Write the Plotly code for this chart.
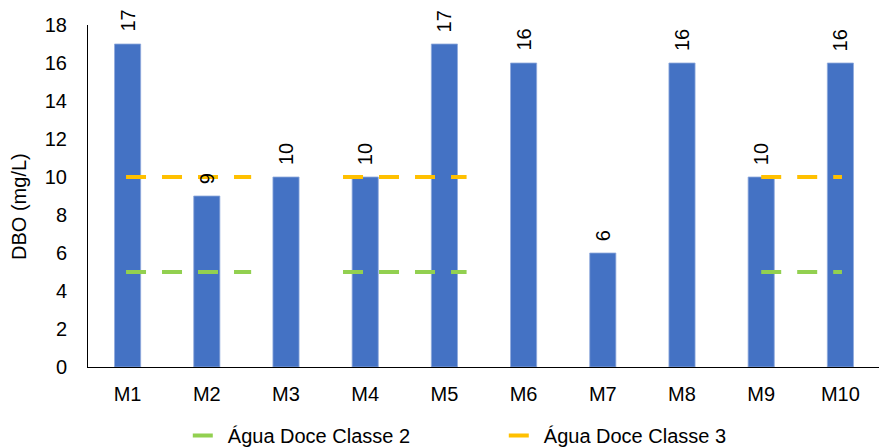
import plotly.graph_objects as go

categories = ["M1", "M2", "M3", "M4", "M5", "M6", "M7", "M8", "M9", "M10"]
dbo_values = [17, 9, 10, 10, 17, 16, 6, 16, 10, 16]

# reference line segments (x in category units, M1 = 0), None = gap
class2_x = [-0.02, 1.56, None, 2.72, 4.28, None, 8.0, 9.02]
class2_y = [5, 5, None, 5, 5, None, 5, 5]
class3_x = [-0.02, 1.56, None, 2.72, 4.28, None, 8.0, 9.02]
class3_y = [10, 10, None, 10, 10, None, 10, 10]

font_family = "Liberation Sans, Arial, sans-serif"
FS = 20
xpos = list(range(len(categories)))

fig = go.Figure()
fig.add_trace(go.Bar(
    x=xpos, y=dbo_values, width=0.33,
    marker=dict(color="#4472C4", line=dict(color="#8FAADC", width=0.8)),
    showlegend=False, hoverinfo="y",
))
fig.add_trace(go.Scatter(
    x=class2_x, y=class2_y, mode="lines", name="Água Doce Classe 2",
    line=dict(color="#92D050", width=4, dash="20px,16px"), connectgaps=False,
))
fig.add_trace(go.Scatter(
    x=class3_x, y=class3_y, mode="lines", name="Água Doce Classe 3",
    line=dict(color="#FFC000", width=4, dash="20px,16px"), connectgaps=False,
))

for xi, v in zip(xpos, dbo_values):
    fig.add_annotation(x=xi, y=v, text=str(v), showarrow=False, textangle=-90,
                       xanchor="center", yanchor="bottom", yshift=10,
                       font=dict(size=FS, color="#000000", family=font_family))

fig.add_annotation(xref="paper", yref="paper", x=-0.0871, y=0.468,
                   text="DBO (mg/L)", showarrow=False, textangle=-90,
                   xanchor="center", yanchor="middle",
                   font=dict(size=FS, color="#000000", family=font_family))

fig.update_layout(
    width=879, height=440,
    margin=dict(l=80, r=7, t=17, b=81, autoexpand=False),
    paper_bgcolor="white", plot_bgcolor="white",
    font=dict(family=font_family, size=FS, color="#000000"),
    legend=dict(orientation="h", x=0.126, xanchor="left", y=-0.2, yanchor="middle",
                font=dict(size=FS), entrywidth=271, entrywidthmode="pixels",
                traceorder="normal"),
    xaxis=dict(range=[-0.5, 9.5], tickvals=xpos, ticktext=categories,
               showline=True, linecolor="#000000", linewidth=1, showgrid=False,
               ticks="", zeroline=False, tickfont=dict(size=FS), automargin=False,
               ticklabelstandoff=9),
    yaxis=dict(range=[0, 18], dtick=2, showline=True, linecolor="#000000", linewidth=1,
               showgrid=False, ticks="", zeroline=False, tickfont=dict(size=FS),
               automargin=False, ticklabelstandoff=16),
)

fig.write_html("out.html")
